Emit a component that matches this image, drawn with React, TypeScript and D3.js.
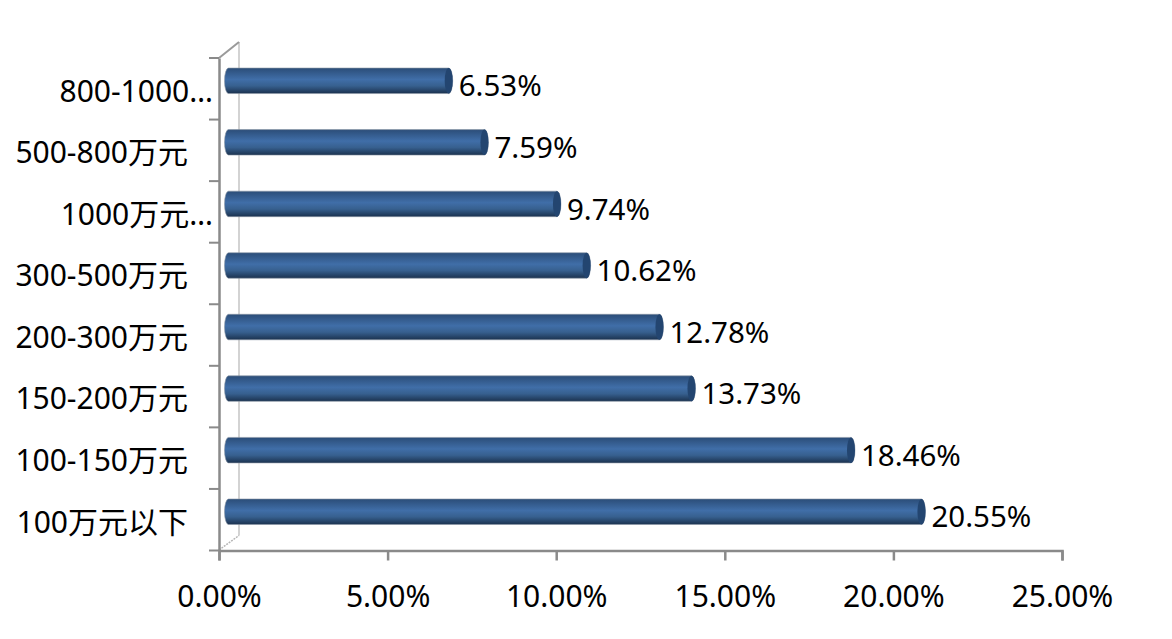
import React, { useEffect, useRef } from "react";
import * as d3 from "d3";

const categories = ["100万元以下", "100-150万元", "150-200万元", "200-300万元", "300-500万元", "1000万元…", "500-800万元", "800-1000…"];
const values = [20.55, 18.46, 13.73, 12.78, 10.62, 9.74, 7.59, 6.53];
const xTicks = [0, 5, 10, 15, 20, 25];

const FONT = "'Noto Sans', 'Noto Sans CJK SC', sans-serif";
const AXIS_COLOR = "#8a8a8a";

export default function App() {
  const ref = useRef<SVGSVGElement>(null);

  useEffect(() => {
    const svg = d3.select(ref.current);
    svg.selectAll("*").remove();

    const x = d3.scaleLinear().domain([0, 25]).range([219, 1062]);
    const y = d3.scaleBand().domain(categories).range([550.5, 58]);
    const depthX = 20;
    const depthY = 15;
    const barH = 25.5;
    const rx = 4;
    const barOffset = 9.5;
    const x0 = x(0) + barOffset;

    const grad = svg
      .append("defs")
      .append("linearGradient")
      .attr("id", "barFill")
      .attr("x1", 0)
      .attr("y1", 0)
      .attr("x2", 0)
      .attr("y2", 1);
    grad.append("stop").attr("offset", "0%").attr("stop-color", "#2b4d78");
    grad.append("stop").attr("offset", "45%").attr("stop-color", "#406ea8");
    grad.append("stop").attr("offset", "70%").attr("stop-color", "#37608f");
    grad.append("stop").attr("offset", "100%").attr("stop-color", "#1b324f");

    // back wall
    svg
      .append("line")
      .attr("x1", x(0) + depthX)
      .attr("x2", x(0) + depthX)
      .attr("y1", 42)
      .attr("y2", 550.5 - depthY)
      .attr("stroke", "#c4c4c4")
      .attr("stroke-width", 1.5);
    svg
      .append("line")
      .attr("x1", x(0))
      .attr("y1", 58)
      .attr("x2", x(0) + depthX)
      .attr("y2", 42)
      .attr("stroke", "#9a9a9a")
      .attr("stroke-width", 2);
    svg
      .append("line")
      .attr("x1", x(0))
      .attr("y1", 550)
      .attr("x2", x(0) + depthX)
      .attr("y2", 550.5 - depthY)
      .attr("stroke", "#b5b5b5")
      .attr("stroke-width", 1.5)
      .attr("stroke-dasharray", "2 1");

    // axes
    const xAxis = svg
      .append("g")
      .attr("transform", "translate(0,550.5)")
      .call(
        d3
          .axisBottom(x)
          .tickValues(xTicks)
          .tickSize(10)
          .tickPadding(25)
          .tickFormat((d) => (d as number).toFixed(2) + "%")
      );
    const yAxis = svg
      .append("g")
      .attr("transform", "translate(" + x(0) + ",0)")
      .call(d3.axisLeft(y).tickValues([]).tickSize(0));

    // category separators
    const edges = categories.map((c) => y(c) as number).concat(550.5);
    yAxis
      .selectAll("line.sep")
      .data(edges)
      .enter()
      .append("line")
      .attr("class", "sep")
      .attr("x1", -10)
      .attr("x2", 0)
      .attr("y1", (d) => d)
      .attr("y2", (d) => d)
      .attr("stroke", AXIS_COLOR)
      .attr("stroke-width", 2);

    [xAxis, yAxis].forEach((g) => {
      g.selectAll("path").attr("stroke", AXIS_COLOR).attr("stroke-width", 2.5);
      g.selectAll(".tick line").attr("stroke", AXIS_COLOR).attr("stroke-width", 2.5);
    });
    xAxis
      .selectAll("text")
      .attr("fill", "#000")
      .style("font-family", FONT)
      .style("font-size", "30px");

    // category labels
    svg
      .append("g")
      .selectAll("text")
      .data(categories)
      .enter()
      .append("text")
      .attr("x", (d) => (d.endsWith("…") ? 213 : 188))
      .attr("y", (d) => (y(d) as number) + y.bandwidth() / 2 + 2)
      .attr("dy", "0.36em")
      .attr("text-anchor", "end")
      .style("font-family", FONT)
      .style("font-size", "30px")
      .text((d) => d);

    // bars
    const bars = svg
      .append("g")
      .selectAll("g")
      .data(categories)
      .enter()
      .append("g")
      .attr("transform", (d) => "translate(0," + ((y(d) as number) + y.bandwidth() / 2 - 8) + ")");

    bars
      .append("path")
      .attr("fill", "url(#barFill)")
      .attr("stroke", "#8b97a6")
      .attr("stroke-width", 0.6)
      .attr("d", (d, i) => {
        const x1 = x(values[i]) + barOffset;
        const h = barH / 2;
        return (
          `M${x0},${-h}L${x1},${-h}` +
          `A${rx},${h} 0 0 1 ${x1},${h}` +
          `L${x0},${h}` +
          `A${rx},${h} 0 0 1 ${x0},${-h}Z`
        );
      });

    bars
      .append("ellipse")
      .attr("cx", (d, i) => x(values[i]) + barOffset)
      .attr("cy", 0)
      .attr("rx", rx)
      .attr("ry", barH / 2)
      .attr("fill", "#234570");

    bars
      .append("text")
      .attr("x", (d, i) => x(values[i]) + barOffset + 10)
      .attr("y", 5)
      .attr("dy", "0.36em")
      .style("font-family", FONT)
      .style("font-size", "29.5px")
      .text((d, i) => values[i].toFixed(2) + "%");
  }, []);

  return (
    <svg
      ref={ref}
      width={1172}
      height={639}
      style={{ position: "absolute", left: 0, top: 0, background: "#fff" }}
    />
  );
}
